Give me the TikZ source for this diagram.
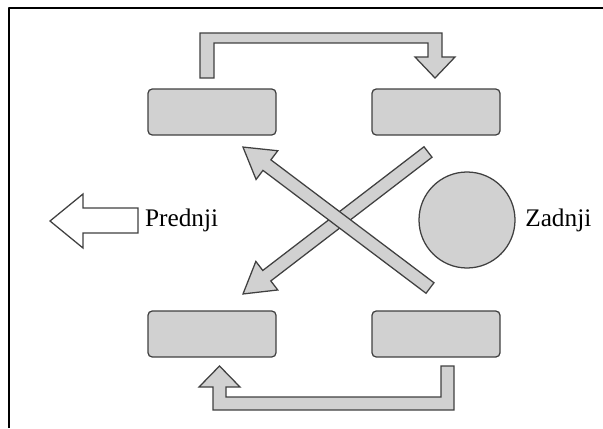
\documentclass[tikz,border=0pt]{standalone}
\usepackage{fontspec}
\setmainfont{Liberation Serif}
\usepackage{tikz}
\usetikzlibrary{arrows.meta}
\tikzset{
  every picture/.style={line join=round, line cap=round, >=Stealth},
}
\definecolor{boxgray}{gray}{0.82}
\definecolor{edgegray}{gray}{0.25}
% straight block arrow: tail point, angle, length
\newcommand\xarrow[3]{%
  \begin{scope}[shift={#1},rotate=#2]
    \draw[arrowbody] (0,-0.165)--(#3-0.75,-0.165)--(#3-0.75,-0.45)--(#3,0)
      --(#3-0.75,0.45)--(#3-0.75,0.165)--(0,0.165)--cycle;
  \end{scope}}

\begin{document}
\begin{tikzpicture}[
  wheel/.style={draw=edgegray, fill=boxgray, line width=0.9pt, rounded corners=3pt,
    minimum width=3.2cm, minimum height=1.15cm, inner sep=0pt},
  arrowbody/.style={draw=edgegray, fill=boxgray, line width=0.9pt, line join=miter},
  lbl/.style={font=\fontsize{18}{20}\selectfont, inner sep=0pt},
]
\useasboundingbox (0,0) rectangle (15.075,10.7);
\draw[line width=1.2pt,line cap=butt] (0.225,0)--(0.225,10.5)--(15.075,10.5);

% wheels
\node[wheel] (tl) at (5.3,7.9) {};
\node[wheel] (tr) at (10.9,7.9) {};
\node[wheel] (bl) at (5.3,2.35) {};
\node[wheel] (br) at (10.9,2.35) {};
\node[draw=edgegray, fill=boxgray, line width=0.9pt, circle, minimum size=2.4cm] (drum) at (11.675,5.2) {};

% top and bottom bent arrows
\draw[arrowbody] (5.0,8.75)--(5.0,9.875)--(11.05,9.875)--(11.05,9.275)--(11.375,9.275)
  --(10.875,8.75)--(10.375,9.275)--(10.7,9.275)--(10.7,9.625)--(5.35,9.625)--(5.35,8.75)--cycle;
\draw[arrowbody] (11.025,1.55)--(11.35,1.55)--(11.35,0.45)--(5.325,0.45)--(5.325,1.025)
  --(4.975,1.025)--(5.4875,1.55)--(6.0,1.025)--(5.65,1.025)--(5.65,0.775)--(11.025,0.775)--cycle;

% crossing arrows
\xarrow{(10.7,6.9)}{217.5}{5.83}
\xarrow{(10.75,3.5)}{143}{5.855}

% direction arrow
\draw[arrowbody, fill=white] (3.45,5.5)--(2.075,5.5)--(2.075,5.85)--(1.25,5.175)
  --(2.075,4.5)--(2.075,4.875)--(3.45,4.875)--cycle;
\node[lbl, anchor=west] (front) at (3.62,5.18) {Prednji};
\node[lbl, anchor=west] (rear) at (13.125,5.2) {Zadnji};
\end{tikzpicture}
\end{document}
